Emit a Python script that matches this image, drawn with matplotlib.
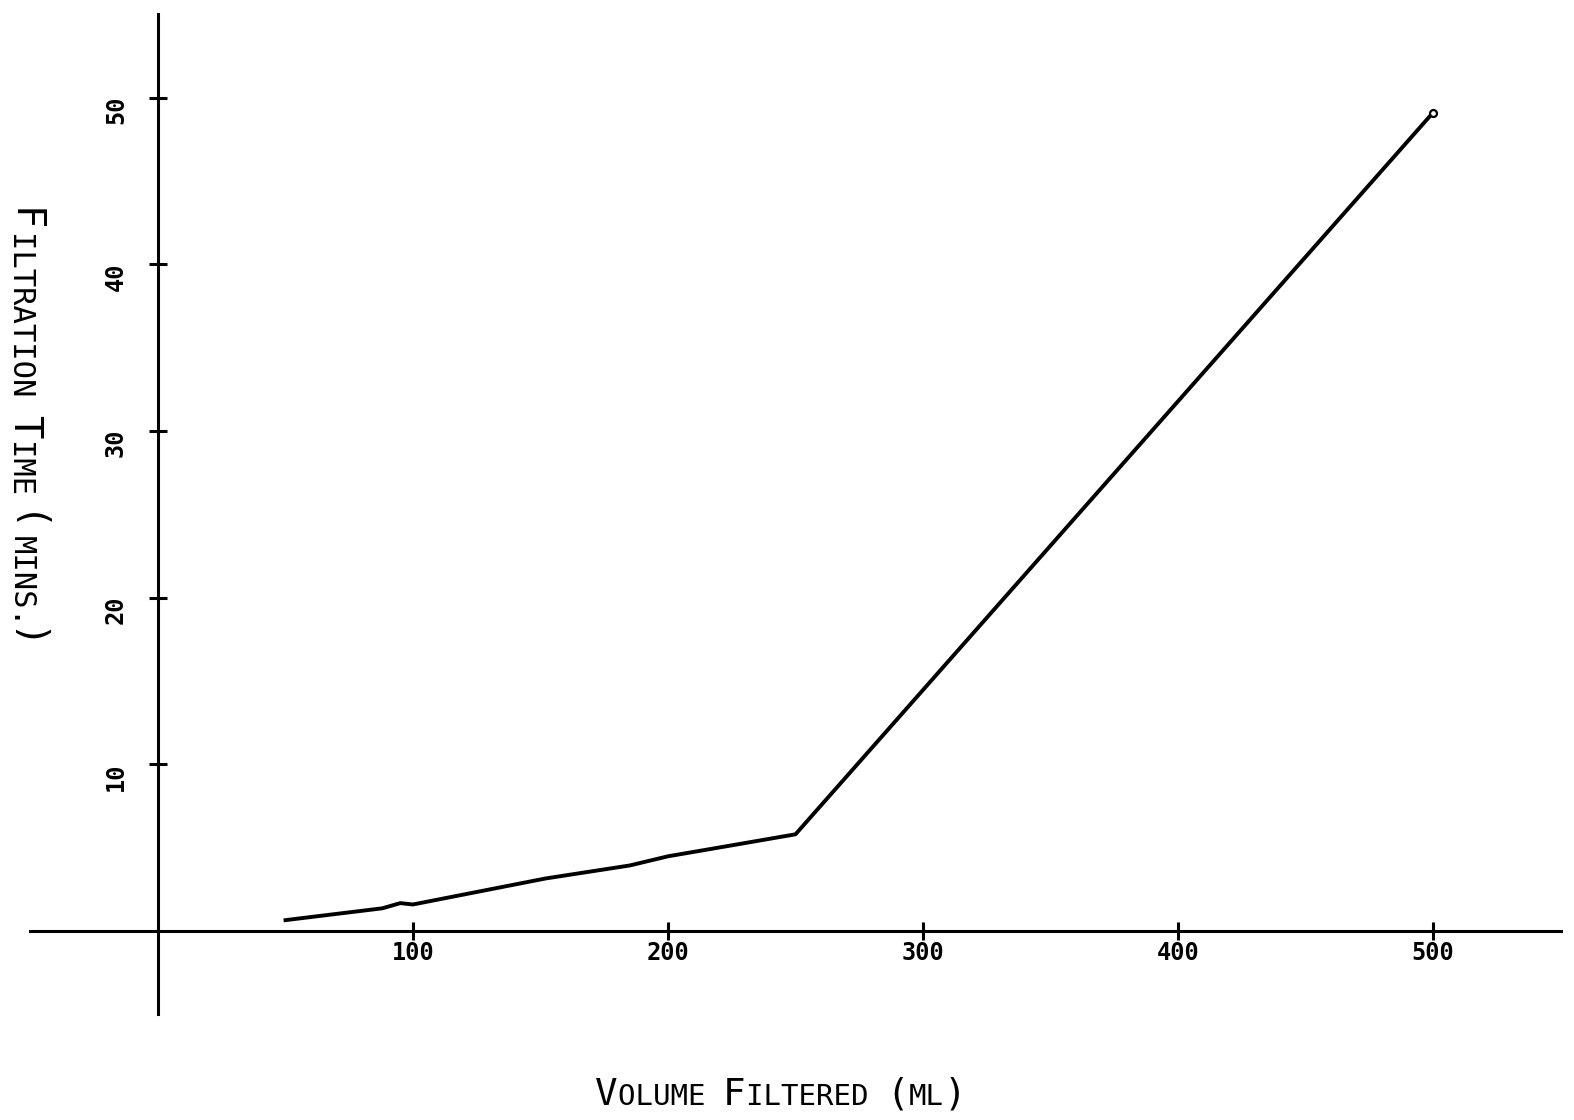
"""Filtration time versus volume filtered, plotter-style line chart."""

import matplotlib

matplotlib.use("Agg")
import matplotlib.pyplot as plt
import matplotlib.transforms as mtransforms

# data
volume_ml = [50, 88, 95, 100, 125, 152, 185, 200, 227, 250, 500]
time_mins = [0.65, 1.36, 1.67, 1.59, 2.34, 3.15, 3.93, 4.48, 5.19, 5.8, 49.1]

x_ticks = [100, 200, 300, 400, 500]
y_ticks = [10, 20, 30, 40, 50]

MONO = "DejaVu Sans Mono"
DPI = 100
W, H = 1574, 1120


def small_caps(fig, text, x0, y0, big, small, vertical=False):
    """Draw text in small caps starting at pixel (x0, y0) on the baseline."""
    runs = []
    for ch in text:
        size = small if (ch.islower() or ch in " .") else big
        if runs and runs[-1][1] == size:
            runs[-1][0] += ch.upper()
        else:
            runs.append([ch.upper(), size])
    pos = 0.0
    for run, size in runs:
        if vertical:
            fig.text(x0 / W, (y0 - pos) / H, run, rotation=-90,
                     rotation_mode="anchor", ha="left", va="baseline",
                     fontsize=size, family=MONO)
        else:
            fig.text((x0 + pos) / W, y0 / H, run, ha="left", va="baseline",
                     fontsize=size, family=MONO)
        pos += len(run) * 0.602 * size * DPI / 72


fig = plt.figure(figsize=(W / DPI, H / DPI), dpi=DPI)
ax = fig.add_axes([30.5 / W, 105.7 / H, 1530 / W, 1000 / H])
ax.set_xlim(-50, 550)
ax.set_ylim(-5, 55)

ax.plot(volume_ml, time_mins, color="black", lw=2.8, solid_joinstyle="round",
        marker="o", markevery=[-1], ms=5, mfc="white", mec="black", mew=1.6)

for side in ("top", "right"):
    ax.spines[side].set_visible(False)
for side in ("left", "bottom"):
    ax.spines[side].set_position(("data", 0))
    ax.spines[side].set_linewidth(2.2)

ax.set_xticks(x_ticks)
ax.set_yticks(y_ticks)
ax.tick_params(direction="inout", length=13, width=2.2, color="black",
               labelbottom=False, labelleft=False)

xlab_tr = mtransforms.offset_copy(ax.transData, fig=fig, x=0, y=-22, units="dots")
for v in x_ticks:
    ax.text(v, 0, str(v), transform=xlab_tr, ha="center", va="center",
            fontsize=17, fontweight="bold", family=MONO)

ylab_tr = mtransforms.offset_copy(ax.transData, fig=fig, x=-42, y=-12, units="dots")
for v in y_ticks:
    ax.text(0, v, str(v), transform=ylab_tr, rotation=90, ha="center",
            va="center", fontsize=17, fontweight="bold", family=MONO)

small_caps(fig, "Volume Filtered (ml)", 595, 15, 27, 21)
small_caps(fig, "Filtration Time (mins.)", 13, 912, 28, 22, vertical=True)

fig.savefig("out.png", dpi=DPI, facecolor="white")
